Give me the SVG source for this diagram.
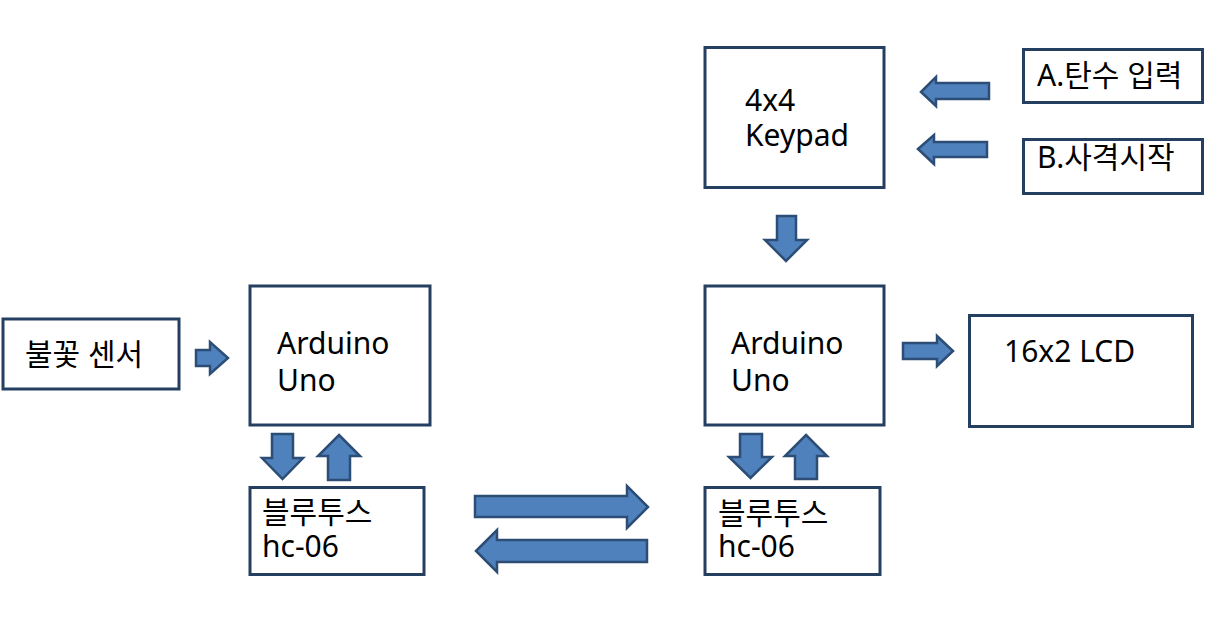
<svg xmlns="http://www.w3.org/2000/svg" width="1219" height="643" viewBox="0 0 1219 643">
<style>
.box{fill:#fff;stroke:#243f60;stroke-width:3}
.arr{fill:#4f81bd;stroke:#2c4d75;stroke-width:2.5;stroke-linejoin:miter}
text{font-family:"Noto Sans","Noto Sans CJK KR",sans-serif;font-size:30px;fill:#000}
</style>
<rect width="1219" height="643" fill="#fff"/>
<g id="keypad"><rect class="box" x="705" y="47.5" width="179" height="140"/><text x="745" y="111">4x4</text><text x="745" y="146">Keypad</text></g>
<g id="inputA"><rect class="box" x="1023.5" y="49.5" width="179" height="53"/><text x="1037" y="86">A.탄수 입력</text></g>
<g id="inputB"><rect class="box" x="1023.5" y="139.5" width="179" height="54"/><text x="1037" y="168">B.사격시작</text></g>
<g id="sensor"><rect class="box" x="3" y="319" width="176" height="70"/><text x="25" y="365">불꽃 센서</text></g>
<g id="arduino1"><rect class="box" x="250" y="286" width="180" height="139"/><text x="277" y="354">Arduino</text><text x="277" y="391">Uno</text></g>
<g id="arduino2"><rect class="box" x="705" y="286" width="179" height="139"/><text x="731" y="354">Arduino</text><text x="731" y="391">Uno</text></g>
<g id="lcd"><rect class="box" x="969.5" y="315.5" width="223" height="111"/><text x="1004" y="362">16x2 LCD</text></g>
<g id="bt1"><rect class="box" x="250" y="487.5" width="174" height="87"/><text x="262" y="523">블루투스</text><text x="262" y="557">hc-06</text></g>
<g id="bt2"><rect class="box" x="705" y="487.5" width="175" height="87"/><text x="718" y="524">블루투스</text><text x="718" y="557">hc-06</text></g>
<g id="connectors">
<polygon class="arr" points="921,92 936,77 936,83 989,83 989,99 936,99 936,106"/>
<polygon class="arr" points="918,149 934,135 934,142 987,142 987,157 934,157 934,164"/>
<polygon class="arr" points="777,216 796,216 796,240 807,240 786,261 765,240 777,240"/>
<polygon class="arr" points="196,350 210,350 210,342 228,358 210,374 210,366 196,366"/>
<polygon class="arr" points="903,343 937,343 937,336 953,351 937,366 937,359 903,359"/>
<polygon class="arr" points="272,434 293,434 293,458 303,458 282.5,479 262,458 272,458"/>
<polygon class="arr" points="339,435 360,456 350,456 350,480 328,480 328,456 318,456"/>
<polygon class="arr" points="740,434 762,434 762,457 772,457 750.5,478 729,457 740,457"/>
<polygon class="arr" points="806,435 827,456 817,456 817,479 795,479 795,456 785,456"/>
<polygon class="arr" points="475,496 627,496 627,486 648,507 627,528 627,517 475,517"/>
<polygon class="arr" points="476,551 497,530 497,540 647,540 647,562 497,562 497,572"/>
</g>
</svg>
